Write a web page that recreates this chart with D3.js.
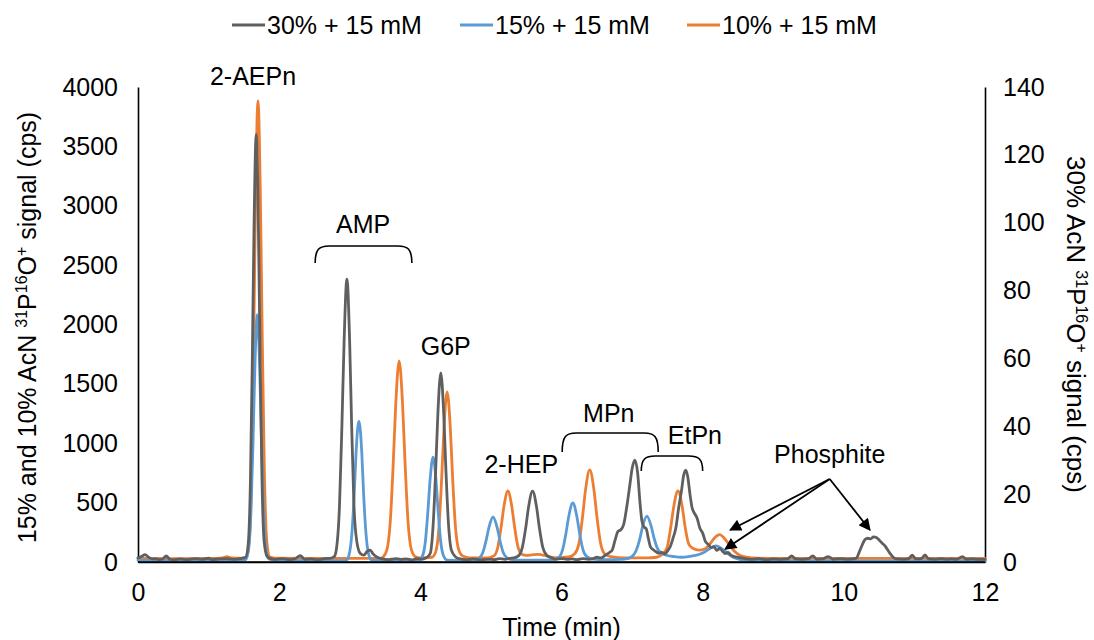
<!DOCTYPE html>
<html>
<head>
<meta charset="utf-8">
<script src="https://cdn.jsdelivr.net/npm/d3@7"></script>
<style>
  html, body { margin: 0; padding: 0; background: #fff; }
  svg text { font-family: "Liberation Sans", Arial, sans-serif; fill: #000; }
</style>
</head>
<body>
<svg id="chart" width="1094" height="640"></svg>
<script>
// Retention time axis and signal axes
const timeTicks = [0, 2, 4, 6, 8, 10, 12];
const leftTicks = [0, 500, 1000, 1500, 2000, 2500, 3000, 3500, 4000];
const rightTicks = [0, 20, 40, 60, 80, 100, 120, 140];

const seriesNames = ["30% + 15 mM", "15% + 15 mM", "10% + 15 mM"];
const seriesColors = ["#5f5f5f", "#5b9bd5", "#ed7d31"];

// 15% AcN + 15 mM  [time (min), 31P16O+ signal (cps)] – left axis
const blue15 = [
  [0, 15], [0.3, 12], [0.8, 12], [1.3, 14], [1.5, 16],
  [1.525, 20], [1.565, 100], [1.60, 420], [1.63, 1020], [1.655, 1620], [1.69, 2080],
  [1.725, 1620], [1.75, 1020], [1.78, 420], [1.815, 100], [1.855, 25], [1.95, 14],
  [2.4, 12], [2.9, 12],
  [2.95, 14], [2.99, 60], [3.03, 240], [3.064, 580], [3.09, 926], [3.13, 1187],
  [3.17, 926], [3.196, 580], [3.23, 240], [3.27, 60], [3.31, 16],
  [3.5, 12], [3.9, 14],
  [3.98, 15], [4.03, 50], [4.072, 177], [4.108, 433], [4.138, 690], [4.18, 884],
  [4.222, 690], [4.252, 433], [4.288, 177], [4.33, 50], [4.38, 16],
  [4.7, 14], [4.77, 18], [4.83, 30], [4.886, 80], [4.934, 186], [4.974, 296], [5.03, 379],
  [5.086, 296], [5.126, 186], [5.174, 80], [5.23, 35], [5.3, 20], [5.45, 15],
  [5.85, 16], [5.93, 28], [5.98, 50], [6.016, 104], [6.064, 244], [6.104, 388], [6.16, 497],
  [6.216, 388], [6.256, 244], [6.304, 104], [6.36, 45], [6.45, 25], [6.6, 20],
  [6.85, 22], [6.93, 28], [6.9975, 45], [7.057, 95], [7.108, 190], [7.15, 302], [7.21, 387],
  [7.27, 302], [7.312, 200], [7.363, 110], [7.42, 75], [7.5, 55], [7.6, 45], [7.7, 40],
  [7.8, 45], [7.9, 55], [8.0, 75], [8.08, 105], [8.15, 128], [8.19, 135], [8.24, 125],
  [8.3, 100], [8.37, 65], [8.45, 35], [8.55, 18], [8.7, 12], [9, 10], [10, 10], [11, 10], [12, 10]
];

// 10% AcN + 15 mM  [time (min), signal (cps)] – left axis
const orange10 = [
  [0, 30], [0.5, 28], [1.0, 30], [1.2, 35], [1.26, 45], [1.32, 35], [1.5, 32],
  [1.535, 40], [1.575, 171], [1.61, 776], [1.64, 1902], [1.665, 3028], [1.70, 3882],
  [1.735, 3028], [1.76, 1902], [1.79, 776], [1.825, 171], [1.865, 45], [1.95, 32],
  [2.5, 30], [3.0, 30], [3.3, 30],
  [3.45, 32], [3.47, 40], [3.525, 100], [3.574, 339], [3.616, 830], [3.651, 1321], [3.70, 1693],
  [3.749, 1321], [3.784, 830], [3.826, 339], [3.875, 100], [3.93, 45], [4.0, 35],
  [4.165, 40], [4.2175, 85], [4.263, 286], [4.302, 702], [4.3345, 1117], [4.38, 1432],
  [4.4255, 1117], [4.458, 702], [4.497, 300], [4.545, 100], [4.6, 50], [4.7, 35],
  [4.95, 35], [5.04, 50], [5.096, 120], [5.144, 293], [5.184, 466], [5.24, 598],
  [5.296, 466], [5.336, 293], [5.384, 125], [5.44, 65], [5.5, 55], [5.6, 62], [5.68, 65],
  [5.76, 55], [5.85, 40], [5.95, 35], [6.05, 40],
  [6.12, 45], [6.1875, 70], [6.247, 155], [6.298, 380], [6.34, 605], [6.40, 775],
  [6.46, 605], [6.502, 380], [6.553, 160], [6.61, 70], [6.7, 45], [6.9, 35], [7.2, 35], [7.35, 40],
  [7.4375, 70], [7.497, 125], [7.548, 293], [7.59, 466], [7.65, 598],
  [7.71, 466], [7.752, 293], [7.803, 150], [7.86, 115], [7.95, 100], [8.03, 110],
  [8.1, 150], [8.17, 205], [8.24, 230], [8.3, 205], [8.37, 150], [8.45, 90], [8.55, 50],
  [8.7, 35], [9, 30], [10, 30], [11, 30], [12, 30]
];

// 30% AcN + 15 mM  [time (min), signal (cps)] – right axis
const gray30 = [
  [0.00, 1.2], [0.05, 1.6], [0.1, 2.2], [0.15, 1.4], [0.2, 0.9], [0.25, 1.0], [0.3, 0.7],
  [0.35, 0.9], [0.4, 1.8], [0.45, 0.8], [0.5, 0.6], [0.6, 0.9], [0.7, 0.7], [0.8, 1.0],
  [0.9, 0.8], [1.0, 1.1], [1.05, 0.7], [1.15, 0.9], [1.25, 1.0], [1.35, 0.8], [1.45, 1.0],
  [1.525, 1.4], [1.5625, 5.5], [1.594, 25], [1.621, 62], [1.6435, 98], [1.675, 126],
  [1.7065, 98], [1.729, 62], [1.756, 25], [1.7875, 6], [1.83, 1.6], [1.88, 1.0],
  [1.95, 0.8], [2.05, 1.0], [2.15, 0.7], [2.22, 0.9], [2.3, 1.9], [2.36, 0.8], [2.45, 0.9],
  [2.55, 0.7], [2.65, 1.0], [2.72, 1.1], [2.78, 1.6],
  [2.81, 3.7], [2.855, 16.7], [2.89, 41], [2.92, 65], [2.96, 83.4], [2.9985, 65],
  [3.026, 41], [3.059, 17], [3.10, 6], [3.15, 2.5], [3.2, 2.0], [3.25, 3.2], [3.29, 3.5],
  [3.33, 2.4], [3.38, 1.5], [3.45, 1.0], [3.55, 0.7], [3.65, 1.0], [3.72, 0.8], [3.8, 0.9],
  [3.88, 0.6], [3.95, 1.0], [4.02, 0.8], [4.08, 1.2],
  [4.14, 2.5], [4.182, 11.1], [4.218, 27.3], [4.248, 43.4], [4.29, 55.7], [4.332, 43.4],
  [4.362, 27.3], [4.398, 11.5], [4.44, 3.5], [4.5, 1.5], [4.55, 1.0], [4.65, 0.7], [4.75, 0.9],
  [4.85, 0.6], [4.95, 0.8], [5.05, 0.7], [5.12, 1.0], [5.2, 0.8], [5.27, 1.1],
  [5.326, 1.2], [5.39, 1.8], [5.446, 4.4], [5.494, 10.2], [5.534, 16.3], [5.59, 20.9],
  [5.646, 16.3], [5.686, 10.2], [5.734, 4.4], [5.79, 2.0], [5.85, 1.3], [5.92, 0.8],
  [6.0, 1.0], [6.08, 0.8], [6.15, 0.9], [6.22, 0.7], [6.3, 1.0], [6.38, 0.8], [6.45, 1.0],
  [6.5, 1.4], [6.56, 1.2], [6.62, 2.0], [6.68, 2.8], [6.72, 3.6], [6.76, 6.5], [6.8, 9.0],
  [6.84, 9.5], [6.88, 11], [6.93, 17], [6.97, 23], [7.0, 27.5], [7.04, 30], [7.08, 26],
  [7.11, 18], [7.14, 12], [7.17, 10.3], [7.2, 9.8], [7.23, 7], [7.26, 4.5], [7.3, 3.6],
  [7.34, 3.0], [7.38, 2.6], [7.42, 2.8], [7.46, 2.4], [7.5, 3.2], [7.54, 4.5],
  [7.58, 7], [7.62, 10], [7.66, 16], [7.7, 21], [7.73, 25.5], [7.76, 27.1], [7.79, 25],
  [7.82, 20], [7.85, 16], [7.88, 14.5], [7.92, 13], [7.96, 10], [8.0, 8.5], [8.04, 6],
  [8.08, 5.2], [8.12, 4.3], [8.16, 4.5], [8.2, 3.4], [8.24, 4.0], [8.28, 3.2], [8.32, 2.5],
  [8.36, 2.8], [8.4, 2.0], [8.45, 1.6], [8.5, 1.4], [8.55, 1.2], [8.6, 1.0],
  [8.7, 0.8], [8.8, 1.0], [8.9, 0.7], [9.0, 0.9], [9.1, 0.8], [9.2, 0.9], [9.26, 1.8],
  [9.32, 0.9], [9.4, 0.8], [9.5, 1.0], [9.56, 1.8], [9.62, 0.8], [9.7, 0.9], [9.78, 1.6],
  [9.85, 0.8], [9.95, 1.0], [10.05, 0.8], [10.12, 0.9],
  [10.18, 1.2], [10.22, 3.0], [10.26, 5.0], [10.3, 6.6], [10.34, 7.0], [10.38, 6.8],
  [10.42, 7.4], [10.46, 7.2], [10.5, 6.5], [10.54, 5.6], [10.58, 4.8], [10.62, 3.6],
  [10.66, 2.4], [10.7, 1.4], [10.75, 0.9],
  [10.85, 0.8], [10.92, 1.0], [10.97, 2.0], [11.02, 0.9], [11.1, 1.0], [11.15, 2.1],
  [11.2, 0.9], [11.3, 0.8], [11.38, 1.0], [11.45, 0.8], [11.52, 0.9], [11.6, 0.8],
  [11.68, 1.6], [11.74, 0.8], [11.82, 0.9], [11.9, 0.8], [12.0, 0.8]
];

// Peak labels [text, time, left-axis cps at baseline]
const peakLabels = [
  ["2-AEPn", 1.63, 4017],
  ["AMP", 3.19, 2771],
  ["G6P", 4.36, 1743],
  ["2-HEP", 5.43, 749],
  ["MPn", 6.67, 1179],
  ["EtPn", 7.89, 994],
  ["Phosphite", 9.80, 834]
];
// Brackets [start time, end time, top cps, foot cps]
const brackets = [
  [2.51, 3.88, 2661, 2518],
  [6.01, 7.37, 1086, 926],
  [7.13, 8.00, 893, 766]
];
// Arrows from the Phosphite label [from t, from cps, to t, to cps]
const arrows = [
  [9.80, 699, 8.39, 269],
  [9.80, 699, 8.32, 109],
  [9.80, 699, 10.37, 269]
];

const svg = d3.select("#chart");
const plotLeft = 138, plotRight = 985, plotTop = 87, plotBottom = 562;

const x = d3.scaleLinear().domain([0, 12]).range([plotLeft, plotRight]);
const yL = d3.scaleLinear().domain([0, 4000]).range([plotBottom, plotTop]);
const yR = d3.scaleLinear().domain([0, 140]).range([plotBottom, plotTop]);

const FS = 25;

// Axes
const gx = svg.append("g").attr("transform", `translate(0,${plotBottom})`)
  .call(d3.axisBottom(x).tickValues(timeTicks).tickSize(0).tickPadding(21).tickFormat(d3.format("d")));
const gyl = svg.append("g").attr("transform", `translate(${plotLeft},0)`)
  .call(d3.axisLeft(yL).tickValues(leftTicks).tickSize(0).tickPadding(20).tickFormat(d3.format("d")));
const gyr = svg.append("g").attr("transform", `translate(${plotRight},0)`)
  .call(d3.axisRight(yR).tickValues(rightTicks).tickSize(0).tickPadding(18).tickFormat(d3.format("d")));
[gx, gyl, gyr].forEach(g => {
  g.selectAll("text").style("font-size", FS + "px").attr("fill", "#000")
    .style("font-family", '"Liberation Sans", Arial, sans-serif');
  g.select(".domain").attr("stroke", "#000").attr("stroke-width", 1.6);
});

// Traces
const lineL = d3.line().x(d => x(d[0])).y(d => yL(d[1])).curve(d3.curveMonotoneX);
const lineR = d3.line().x(d => x(d[0])).y(d => yR(d[1])).curve(d3.curveMonotoneX);

const traces = svg.append("g").attr("fill", "none")
  .attr("stroke-width", 2.8).attr("stroke-linejoin", "round").attr("stroke-linecap", "round");
traces.append("path").datum(orange10).attr("d", lineL).attr("stroke", seriesColors[2]);
traces.append("path").datum(blue15).attr("d", lineL).attr("stroke", seriesColors[1]);
traces.append("path").datum(gray30).attr("d", lineR).attr("stroke", seriesColors[0]);

// redraw bottom axis line over the baselines
svg.append("line").attr("x1", plotLeft).attr("x2", plotRight).attr("y1", plotBottom).attr("y2", plotBottom)
  .attr("stroke", "#000").attr("stroke-width", 1.6);

// Peak labels
svg.append("g").selectAll("text").data(peakLabels).join("text")
  .attr("x", d => x(d[1])).attr("y", d => yL(d[2]))
  .attr("text-anchor", "middle").style("font-size", FS + "px").text(d => d[0]);

// Brackets
svg.append("g").selectAll("path").data(brackets).join("path")
  .attr("fill", "none").attr("stroke", "#000").attr("stroke-width", 1.6)
  .attr("d", d => {
    const x1 = x(d[0]), x2 = x(d[1]), yt = yL(d[2]), yf = yL(d[3]);
    const r = 14;
    return `M${x1},${yf} C${x1},${yt + 3} ${x1 + 4},${yt} ${x1 + r},${yt} L${x2 - r},${yt} C${x2 - 4},${yt} ${x2},${yt + 3} ${x2},${yf}`;
  });

// Arrows
svg.append("defs").append("marker")
  .attr("id", "arrowhead").attr("viewBox", "0 0 10 10").attr("refX", 9).attr("refY", 5)
  .attr("markerWidth", 14).attr("markerHeight", 12).attr("markerUnits", "userSpaceOnUse")
  .attr("orient", "auto")
  .append("path").attr("d", "M0,0 L10,5 L0,10 Z").attr("fill", "#000");
svg.append("g").selectAll("line").data(arrows).join("line")
  .attr("x1", d => x(d[0])).attr("y1", d => yL(d[1]))
  .attr("x2", d => x(d[2])).attr("y2", d => yL(d[3]))
  .attr("stroke", "#000").attr("stroke-width", 1.8).attr("marker-end", "url(#arrowhead)");

// Axis titles
function titleWithIsotopes(t, prefix, size) {
  t.style("font-size", size + "px");
  t.append("tspan").text(prefix);
  t.append("tspan").attr("dy", -9).style("font-size", "16px").text("31");
  t.append("tspan").attr("dy", 9).text("P");
  t.append("tspan").attr("dy", -9).style("font-size", "16px").text("16");
  t.append("tspan").attr("dy", 9).text("O");
  t.append("tspan").attr("dy", -9).style("font-size", "16px").text("+");
  t.append("tspan").attr("dy", 9).text(" signal (cps)");
}
svg.append("text").attr("text-anchor", "middle")
  .attr("transform", `translate(36,${(plotTop + plotBottom) / 2 + 3}) rotate(-90)`)
  .call(titleWithIsotopes, "15% and 10% AcN ", 25);
svg.append("text").attr("text-anchor", "middle")
  .attr("transform", `translate(1067,${(plotTop + plotBottom) / 2}) rotate(90)`)
  .call(titleWithIsotopes, "30% AcN ", 26);
svg.append("text").attr("text-anchor", "middle")
  .attr("x", (plotLeft + plotRight) / 2).attr("y", 636)
  .style("font-size", FS + "px").text("Time (min)");

// Legend
const legendX = [232, 460, 687];
const legend = svg.append("g");
seriesNames.forEach((name, i) => {
  legend.append("line").attr("x1", legendX[i]).attr("x2", legendX[i] + 33)
    .attr("y1", 25).attr("y2", 25).attr("stroke", seriesColors[i]).attr("stroke-width", 2.8);
  legend.append("text").attr("x", legendX[i] + 35).attr("y", 34)
    .style("font-size", FS + "px").text(name);
});
</script>
</body>
</html>
